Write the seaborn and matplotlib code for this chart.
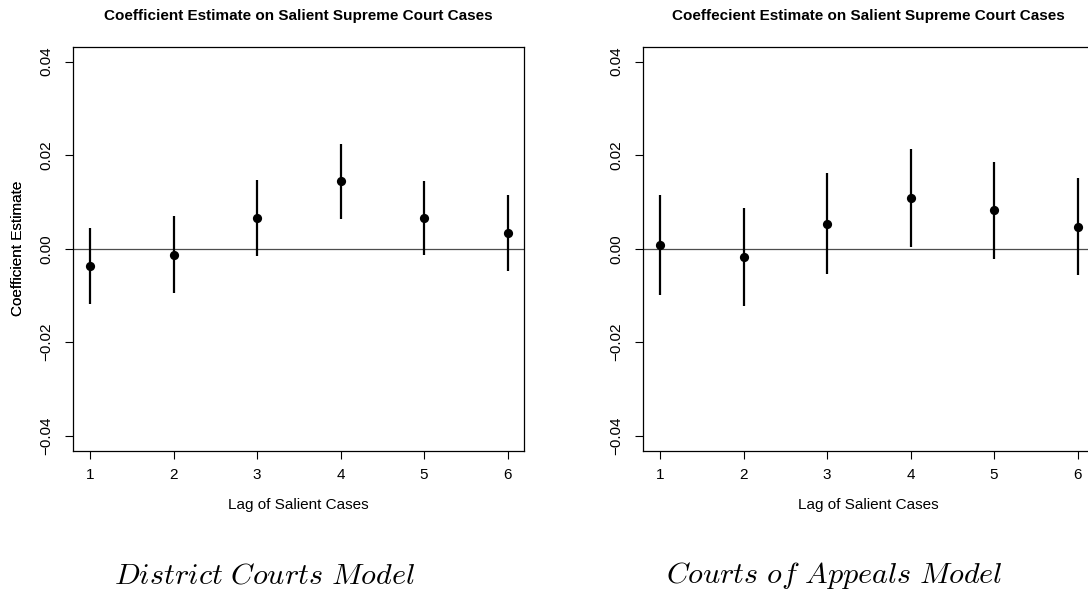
import matplotlib
matplotlib.use("Agg")
import matplotlib.pyplot as plt
import seaborn as sns
import pandas as pd

# Lag of salient Supreme Court cases
lags = [1, 2, 3, 4, 5, 6]

# District courts model: estimates with interval bounds
district_est = [-0.0038, -0.0013, 0.0065, 0.0144, 0.0065, 0.0033]
district_lo = [-0.0119, -0.0094, -0.0016, 0.0064, -0.0014, -0.0047]
district_hi = [0.0044, 0.0069, 0.0146, 0.0224, 0.0144, 0.0114]

# Courts of appeals model: estimates with interval bounds
appeals_est = [0.0007, -0.0018, 0.0053, 0.0109, 0.0083, 0.0047]
appeals_lo = [-0.0100, -0.0123, -0.0054, 0.0004, -0.0021, -0.0057]
appeals_hi = [0.0115, 0.0086, 0.0161, 0.0214, 0.0186, 0.0152]

y_ticks = [-0.04, -0.02, 0.00, 0.02, 0.04]
y_tick_labels = ["\u22120.04", "\u22120.02", "0.00", "0.02", "0.04"]

titles = ["Coefficient Estimate on Salient Supreme Court Cases",
          "Coeffecient Estimate on Salient Supreme Court Cases"]
captions = ["District Courts Model", "Courts of Appeals Model"]

sns.set_theme(style="ticks")
plt.rcParams["font.family"] = ["Liberation Sans", "DejaVu Sans"]
plt.rcParams["mathtext.fontset"] = "cm"

W, H = 1088, 592
fig = plt.figure(figsize=(W / 100, H / 100), dpi=100)
fig.patch.set_facecolor("white")

panels = [
    (district_est, district_lo, district_hi),
    (appeals_est, appeals_lo, appeals_hi),
]
left_px = [73.3, 643.3]
ax_w_px, top_px, bot_px = 451.0, 46.7, 450.7
caption_x_px = [264.0, 834.0]

for i, (est, lo, hi) in enumerate(panels):
    ax = fig.add_axes([left_px[i] / W, (H - bot_px) / H,
                       ax_w_px / W, (bot_px - top_px) / H])
    ax.set_facecolor("white")
    df = pd.DataFrame({"lag": lags, "est": est, "lo": lo, "hi": hi})

    ax.axhline(0, color="0.3", lw=0.9, zorder=1)
    ax.vlines(df["lag"], df["lo"], df["hi"], color="black", lw=1.6, zorder=2)
    sns.scatterplot(data=df, x="lag", y="est", ax=ax, color="black",
                    s=44, linewidth=0, zorder=3, legend=False)

    ax.set_xlim(0.8, 6.2)
    ax.set_ylim(-0.0432, 0.0432)
    ax.set_xticks(lags)
    ax.set_xticklabels([str(v) for v in lags])
    ax.set_yticks(y_ticks)
    ax.set_yticklabels(y_tick_labels, rotation=90, va="center")

    for sp in ax.spines.values():
        sp.set_visible(True)
        sp.set_color("black")
        sp.set_linewidth(0.9)
    ax.tick_params(axis="both", direction="out", length=5.5, width=0.8,
                   color="black", labelsize=11, labelcolor="black")
    ax.tick_params(axis="y", pad=8.8)
    ax.tick_params(axis="x", pad=7.0)

    ax.set_xlabel("Lag of Salient Cases", fontsize=11, color="black")
    ax.xaxis.set_label_coords(0.5, (bot_px - 505) / (bot_px - top_px))
    ax.xaxis.label.set_va("center")
    ax.set_ylabel("Coefficient Estimate", fontsize=11, color="black")
    ax.yaxis.set_label_coords((18.3 - left_px[i]) / ax_w_px, 0.5)
    ax.yaxis.label.set_va("center")

    ax.text(0.5, (bot_px - 16) / (bot_px - top_px), titles[i],
            transform=ax.transAxes, ha="center", va="center",
            fontsize=11, fontweight="bold", color="black")

    words = captions[i].replace(" ", r"\ ")
    fig.text(caption_x_px[i] / W, (H - 583.3) / H, r"$\mathit{" + words + "}$",
             ha="center", va="baseline", fontsize=21.7, color="black")

fig.savefig("out.png", dpi=100, facecolor="white")
